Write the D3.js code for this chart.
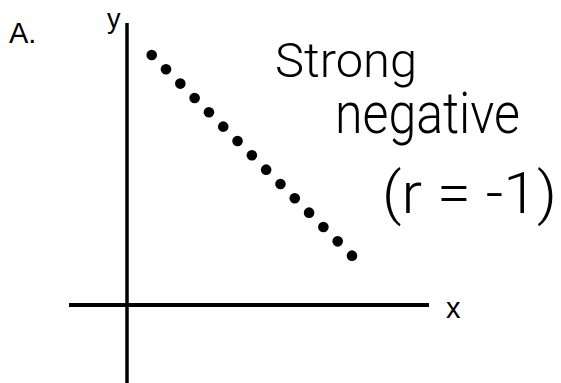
<!DOCTYPE html>
<html>
<head>
<meta charset="utf-8">
<script src="https://cdn.jsdelivr.net/npm/d3@7"></script>
<style>
  html, body { margin: 0; padding: 0; background: #fff; }
  svg { display: block; }
</style>
</head>
<body>
<svg id="chart" width="561" height="383"></svg>
<script>
// Scatter of a perfect negative relationship: 15 evenly spaced points.
const xValues = [1, 2, 3, 4, 5, 6, 7, 8, 9, 10, 11, 12, 13, 14, 15];
const yValues = [15, 14, 13, 12, 11, 10, 9, 8, 7, 6, 5, 4, 3, 2, 1];
const panelLabel = "A.";
const axisLabels = { x: "x", y: "y" };
const noteLines = ["Strong", "negative", "(r = -1)"];

const svg = d3.select("#chart");
const W = 561, H = 383;

// Hand-drawn style axes crossing near the lower left
const origin = { x: 127, y: 305 };
const xScale = d3.scaleLinear().domain([0, 16]).range([137.4, 366.3]);
const yScale = d3.scaleLinear().domain([0, 16]).range([270, 40.6]);

svg.append("rect").attr("width", W).attr("height", H).attr("fill", "#fff");

// axes
svg.append("line")
  .attr("x1", origin.x).attr("x2", origin.x)
  .attr("y1", 23).attr("y2", H)
  .attr("stroke", "#000").attr("stroke-width", 3.5);
svg.append("line")
  .attr("x1", 69).attr("x2", 429)
  .attr("y1", origin.y).attr("y2", origin.y)
  .attr("stroke", "#000").attr("stroke-width", 4);

// axis letters and panel label
const sans = "'Liberation Sans', Arial, sans-serif";
svg.append("text").text(panelLabel)
  .attr("x", 9).attr("y", 43)
  .attr("font-family", sans).attr("font-size", 29).attr("fill", "#000");
svg.append("text").text(axisLabels.y)
  .attr("x", 107).attr("y", 28)
  .attr("font-family", sans).attr("font-size", 27).attr("fill", "#000");
svg.append("text").text(axisLabels.x)
  .attr("x", 446).attr("y", 318)
  .attr("font-family", sans).attr("font-size", 29).attr("fill", "#000");

// points
svg.append("g").selectAll("circle")
  .data(xValues.map((x, i) => ({ x, y: yValues[i] })))
  .join("circle")
  .attr("cx", d => xScale(d.x))
  .attr("cy", d => yScale(d.y))
  .attr("r", 5.3)
  .attr("fill", "#000");

// handwritten-style annotation
const hand = "Roboto, 'Open Sans', 'DejaVu Sans', sans-serif";
const notes = [
  { text: noteLines[0], x: 275, y: 77, size: 48, len: 142 },
  { text: noteLines[1], x: 335, y: 133, size: 58, len: 185 },
  { text: noteLines[2], x: 382, y: 213, size: 58, len: 175 }
];
svg.append("g").selectAll("text")
  .data(notes)
  .join("text")
  .text(d => d.text)
  .attr("x", d => d.x)
  .attr("y", d => d.y)
  .attr("font-family", hand)
  .attr("font-weight", 300)
  .attr("font-size", d => d.size)
  .attr("textLength", d => d.len)
  .attr("lengthAdjust", "spacingAndGlyphs")
  .attr("fill", "#000");
</script>
</body>
</html>
